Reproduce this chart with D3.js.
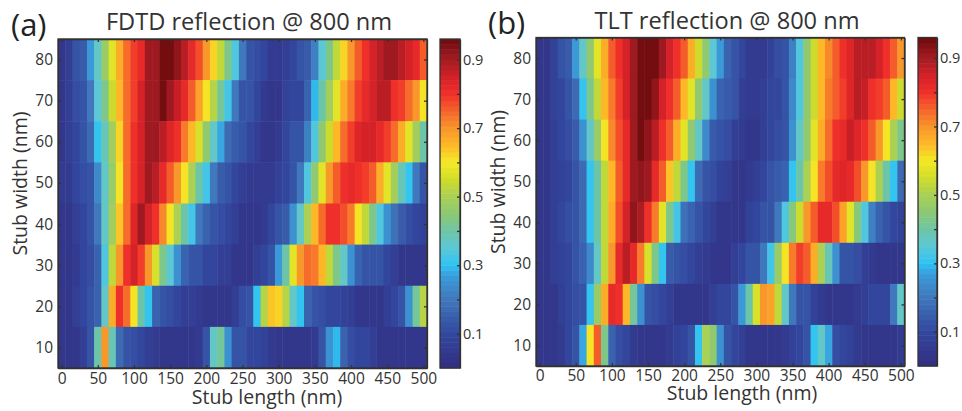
<!DOCTYPE html>
<html>
<head>
<meta charset="utf-8">
<script src="https://cdnjs.cloudflare.com/ajax/libs/d3/7.8.5/d3.min.js"></script>
<style>
  body { margin: 0; background: #fff; }
  text { font-family: "Open Sans", sans-serif; fill: #333; }
  .ticks text { font-size: 15.5px; }
  .barticks text { font-size: 14.5px; }
  .label { font-size: 19.5px; }
  .title { font-size: 23.6px; }
  .letter { font-size: 31px; fill: #222; }
</style>
</head>
<body>
<div id="chart"></div>
<script>
// stub lengths (columns) and stub widths (rows, top to bottom)
var stubLengths = d3.range(0, 501, 10);
var stubWidths = [80, 70, 60, 50, 40, 30, 20, 10];
var lengthTicks = [0, 50, 100, 150, 200, 250, 300, 350, 400, 450, 500];
var widthTicks = [10, 20, 30, 40, 50, 60, 70, 80];
var colorbarTicks = [0.1, 0.2, 0.3, 0.4, 0.5, 0.6, 0.7, 0.8, 0.9];
var colorbarLabels = [0.1, 0.3, 0.5, 0.7, 0.9];

// FDTD panel, one row per stub width
var fdtd80 = [.04,.07,.12,.14,.26,.37,.47,.57,.66,.74,.79,.82,.9,.9,.95,.95,.92,.87,.81,.77,.7,.62,.53,.42,.33,.2,.13,.11,.09,.05,.05,.06,.09,.12,.14,.22,.35,.43,.53,.62,.7,.75,.8,.84,.87,.9,.9,.88,.85,.81,.75];
var fdtd70 = [.04,.07,.11,.13,.2,.35,.43,.54,.65,.74,.79,.85,.9,.9,.95,.9,.86,.81,.76,.68,.6,.51,.41,.32,.2,.13,.12,.09,.05,.04,.04,.08,.09,.1,.15,.29,.4,.48,.57,.66,.72,.78,.82,.85,.88,.87,.8,.79,.74,.7,.6];
var fdtd60 = [.04,.07,.1,.13,.17,.3,.38,.48,.62,.74,.8,.85,.9,.91,.88,.83,.8,.73,.65,.56,.46,.37,.27,.17,.14,.12,.09,.06,.04,.04,.05,.1,.12,.13,.22,.33,.45,.55,.65,.74,.79,.83,.85,.85,.82,.79,.74,.66,.58,.48,.4];
var fdtd50 = [.05,.05,.09,.11,.13,.23,.36,.47,.6,.74,.8,.85,.9,.88,.81,.75,.7,.6,.5,.4,.32,.2,.14,.12,.1,.07,.05,.05,.05,.05,.08,.1,.13,.2,.34,.46,.58,.7,.76,.8,.82,.8,.79,.75,.67,.58,.48,.38,.3,.2,.12];
var fdtd40 = [.03,.03,.07,.1,.12,.2,.36,.48,.63,.74,.83,.91,.85,.8,.71,.6,.5,.4,.32,.2,.16,.13,.11,.1,.06,.04,.04,.04,.05,.09,.12,.14,.24,.36,.5,.65,.74,.8,.8,.77,.72,.6,.53,.42,.33,.24,.18,.14,.11,.1,.08];
var fdtd30 = [.03,.03,.05,.09,.11,.15,.33,.53,.7,.8,.84,.78,.7,.56,.42,.35,.24,.15,.13,.12,.1,.09,.07,.06,.03,.03,.03,.07,.1,.13,.26,.4,.58,.7,.74,.73,.65,.53,.43,.36,.25,.15,.13,.12,.12,.1,.06,.04,.04,.04,.04];
var fdtd20 = [.03,.03,.06,.09,.12,.15,.37,.66,.8,.74,.6,.4,.3,.16,.13,.11,.09,.07,.06,.05,.04,.03,.03,.03,.07,.11,.13,.3,.52,.64,.62,.52,.37,.3,.16,.12,.11,.1,.09,.08,.06,.03,.03,.03,.03,.07,.09,.13,.25,.41,.52];
var fdtd10 = [.03,.03,.03,.06,.12,.4,.7,.38,.17,.13,.11,.09,.07,.05,.03,.03,.03,.03,.03,.05,.13,.36,.41,.24,.13,.12,.1,.1,.08,.05,.03,.03,.03,.03,.03,.05,.13,.24,.29,.15,.11,.1,.09,.06,.04,.04,.03,.03,.03,.03,.04];

// TLT panel
var tlt80 = [.04,.04,.08,.12,.14,.26,.37,.46,.57,.67,.75,.8,.85,.91,.96,.96,.96,.91,.85,.8,.75,.66,.55,.46,.35,.26,.15,.13,.1,.05,.05,.05,.08,.11,.13,.22,.34,.45,.54,.65,.71,.76,.8,.83,.88,.88,.88,.84,.8,.76,.7];
var tlt70 = [.04,.04,.08,.1,.12,.17,.31,.42,.53,.65,.72,.79,.85,.91,.95,.95,.92,.85,.8,.75,.65,.57,.46,.36,.24,.15,.14,.12,.07,.05,.05,.06,.09,.1,.13,.23,.34,.45,.55,.65,.72,.75,.79,.83,.88,.86,.8,.79,.75,.65,.55];
var tlt60 = [.04,.04,.07,.09,.11,.14,.25,.37,.47,.6,.71,.77,.81,.9,.96,.92,.88,.8,.75,.67,.57,.46,.36,.23,.14,.12,.11,.06,.05,.04,.04,.06,.09,.11,.13,.24,.37,.46,.57,.66,.74,.8,.82,.86,.83,.8,.75,.7,.6,.5,.42];
var tlt50 = [.04,.04,.06,.08,.1,.12,.17,.3,.4,.53,.65,.75,.81,.91,.92,.9,.82,.75,.64,.53,.42,.3,.17,.13,.11,.08,.06,.04,.04,.05,.07,.1,.12,.14,.16,.3,.4,.5,.61,.72,.77,.81,.83,.81,.77,.7,.6,.5,.4,.3,.17];
var tlt40 = [.03,.03,.07,.09,.11,.13,.17,.3,.4,.53,.66,.77,.85,.92,.89,.8,.72,.58,.43,.32,.18,.15,.12,.1,.06,.04,.04,.04,.04,.08,.1,.12,.13,.2,.34,.44,.55,.69,.76,.82,.82,.77,.68,.57,.44,.34,.22,.15,.13,.1,.08];
var tlt30 = [.03,.03,.07,.08,.1,.12,.15,.23,.37,.53,.7,.81,.88,.82,.72,.56,.42,.3,.14,.12,.11,.09,.07,.05,.04,.04,.03,.07,.1,.12,.12,.2,.32,.47,.61,.73,.79,.76,.66,.5,.38,.25,.13,.12,.11,.07,.05,.03,.03,.03,.03];
var tlt20 = [.03,.03,.03,.07,.09,.11,.13,.3,.47,.67,.81,.8,.65,.41,.25,.13,.11,.09,.07,.03,.03,.03,.03,.03,.06,.09,.1,.13,.26,.4,.56,.7,.68,.53,.36,.2,.13,.12,.08,.05,.03,.03,.03,.03,.05,.07,.09,.1,.1,.2,.37];
var tlt10 = [.03,.03,.03,.05,.1,.13,.28,.6,.76,.43,.15,.11,.09,.05,.03,.03,.03,.03,.05,.08,.1,.12,.3,.5,.46,.25,.13,.1,.06,.03,.03,.03,.03,.03,.05,.08,.1,.13,.3,.37,.28,.11,.1,.08,.05,.03,.03,.03,.03,.03,.05];

var fdtdRows = [fdtd80, fdtd70, fdtd60, fdtd50, fdtd40, fdtd30, fdtd20, fdtd10];
var tltRows = [tlt80, tlt70, tlt60, tlt50, tlt40, tlt30, tlt20, tlt10];

// colormap stops of the bar
var colorStops = [0, .1, .2, .27, .3, .35, .4, .45, .5, .55, .6, .65, .7, .75, .8, .85, .9, .96];
var colorValues = ["#332d80", "#33479e", "#3f77bb", "#3a9ddb", "#2cc3f3", "#5cc8d8", "#6dc5a5", "#8cc874", "#a8d055", "#cfdc2a", "#f4ea25", "#fdb927", "#f9962a", "#f5642a", "#f0302a", "#d42028", "#a51c22", "#6c0b0e"];
var nLevels = 64;
var maxValue = 0.96;

var smooth = d3.scaleLinear().domain(colorStops).range(colorValues);
var levels = d3.range(nLevels).map(function(i) { return smooth((i + 0.5) / nLevels * maxValue); });
var color = d3.scaleQuantize().domain([0, maxValue]).range(levels);

var svg = d3.select("#chart").append("svg")
    .attr("width", 962)
    .attr("height", 411);

function panel(rows, opt) {
    var x = d3.scaleLinear().domain([-5, 505]).range([opt.left, opt.right]);
    var y = d3.scaleLinear().domain([5, 85]).range([opt.bottom, opt.top]);
    var g = svg.append("g");

    // heat map cells
    rows.forEach(function(row, r) {
        g.selectAll(null)
            .data(row)
            .enter().append("rect")
            .attr("x", function(d, i) { return x(stubLengths[i] - 5); })
            .attr("width", function(d, i) { return x(stubLengths[i] + 5) - x(stubLengths[i] - 5) + 0.5; })
            .attr("y", y(stubWidths[r] + 5))
            .attr("height", y(stubWidths[r] - 5) - y(stubWidths[r] + 5) + 0.5)
            .attr("fill", function(d) { return color(d); });
    });

    // axes with inward ticks, mirrored on top and right
    var bottom = g.append("g").attr("class", "ticks").attr("transform", "translate(0," + opt.bottom + ")")
        .call(d3.axisBottom(x).tickValues(lengthTicks).tickSizeInner(-3).tickSizeOuter(0).tickPadding(opt.xPad));
    var left = g.append("g").attr("class", "ticks").attr("transform", "translate(" + opt.left + ",0)")
        .call(d3.axisLeft(y).tickValues(widthTicks).tickSizeInner(-3).tickSizeOuter(0).tickPadding(5));
    var top = g.append("g").attr("transform", "translate(0," + opt.top + ")")
        .call(d3.axisTop(x).tickValues(lengthTicks).tickSizeInner(-3).tickSizeOuter(0).tickFormat(""));
    var right = g.append("g").attr("transform", "translate(" + opt.right + ",0)")
        .call(d3.axisRight(y).tickValues(widthTicks).tickSizeInner(-3).tickSizeOuter(0).tickFormat(""));
    [bottom, left, top, right].forEach(function(a) {
        a.selectAll("path, line").attr("stroke", "#333").attr("stroke-width", 1.3);
    });

    g.append("text").attr("class", "title")
        .attr("x", opt.titleX).attr("y", opt.top - 9)
        .attr("text-anchor", "middle").text(opt.title);
    g.append("text").attr("class", "letter")
        .attr("x", opt.letterX).attr("y", opt.letterY).text(opt.letter);
    g.append("text").attr("class", "label")
        .attr("x", opt.xLabelX).attr("y", opt.xLabelY)
        .attr("text-anchor", "middle").text("Stub length (nm)");
    g.append("text").attr("class", "label")
        .attr("transform", "translate(" + (opt.left - 31) + "," + opt.yLabelY + ") rotate(-90)")
        .attr("text-anchor", "middle").text("Stub width (nm)");

    // colorbar
    var c = d3.scaleLinear().domain([0, maxValue]).range([opt.bottom, opt.top]);
    var step = maxValue / nLevels;
    g.selectAll(null)
        .data(levels)
        .enter().append("rect")
        .attr("x", opt.barLeft)
        .attr("width", opt.barRight - opt.barLeft)
        .attr("y", function(d, i) { return c((i + 1) * step); })
        .attr("height", c(0) - c(step) + 0.5)
        .attr("fill", function(d) { return d; });
    var bar = g.append("g").attr("class", "barticks").attr("transform", "translate(" + opt.barRight + ",0)")
        .call(d3.axisRight(c).tickValues(colorbarTicks).tickSizeInner(-3).tickSizeOuter(0).tickPadding(3)
            .tickFormat(function(d) { return colorbarLabels.indexOf(d) >= 0 ? d : ""; }));
    bar.selectAll("path, line").attr("stroke", "#333").attr("stroke-width", 1.3);
    g.append("rect")
        .attr("x", opt.barLeft).attr("y", opt.top)
        .attr("width", opt.barRight - opt.barLeft).attr("height", opt.bottom - opt.top)
        .attr("fill", "none").attr("stroke", "#333").attr("stroke-width", 1.3);
    g.append("rect")
        .attr("x", opt.left).attr("y", opt.top)
        .attr("width", opt.right - opt.left).attr("height", opt.bottom - opt.top)
        .attr("fill", "none").attr("stroke", "#333").attr("stroke-width", 1.3);
}

panel(fdtdRows, {
    left: 58, right: 427, top: 39, bottom: 368, barLeft: 440, barRight: 460, xPad: 5,
    title: "FDTD reflection @ 800 nm", titleX: 249, letter: "(a)", letterX: 11, letterY: 36,
    xLabelX: 267, xLabelY: 404, yLabelY: 183.5
});
panel(tltRows, {
    left: 536, right: 904.5, top: 37.5, bottom: 366, barLeft: 918, barRight: 937, xPad: 4,
    title: "TLT reflection @ 800 nm", titleX: 727, letter: "(b)", letterX: 488, letterY: 34,
    xLabelX: 742, xLabelY: 400, yLabelY: 182
});
</script>
</body>
</html>
